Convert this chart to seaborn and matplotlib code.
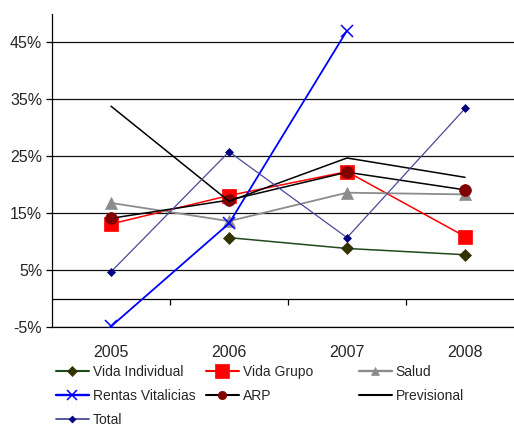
import numpy as np
import pandas as pd
import matplotlib
matplotlib.use("Agg")
import matplotlib.pyplot as plt
import seaborn as sns
from matplotlib.lines import Line2D

# Annual growth rates (%) by insurance line
years = ["2005", "2006", "2007", "2008"]
vida_individual = [np.nan, 10.7, 8.8, 7.7]
vida_grupo = [13.1, 18.1, 22.3, 10.9]
salud = [16.8, 13.6, 18.6, 18.3]
rentas_vitalicias = [-4.9, 13.2, 47.1, np.nan]
arp = [14.1, 17.3, 22.2, 19.1]
previsional = [33.8, 17.1, 24.7, 21.3]
total = [4.7, 25.8, 10.7, 33.4]

series_names = ["Vida Individual", "Vida Grupo", "Salud", "Rentas Vitalicias",
                "ARP", "Previsional", "Total"]
series_values = [vida_individual, vida_grupo, salud, rentas_vitalicias,
                 arp, previsional, total]
y_ticks = [-5, 5, 15, 25, 35, 45]

sns.set_style("white")
plt.rcParams["font.family"] = ["Liberation Sans", "DejaVu Sans"]

styles = {
    "Vida Individual": dict(color="#1e4a1e", marker="D", ms=6.5, lms=5.5, mfc="#333300", mec="#333300", lw=1.1),
    "Vida Grupo": dict(color="#ff0000", marker="s", ms=9.5, lms=9.5, mfc="#ff0000", mec="#ff0000", lw=1.1),
    "Salud": dict(color="#8c8c8c", marker="^", ms=8, lms=6, mfc="#8c8c8c", mec="#8c8c8c", lw=1.3),
    "Rentas Vitalicias": dict(color="#0000ff", marker="x", ms=8, lms=7, mfc="#0000ff", mec="#0000ff", lw=1.3, mew=1.1),
    "ARP": dict(color="#000000", marker="o", ms=8.5, lms=6, mfc="#800000", mec="#800000", lw=1.1),
    "Previsional": dict(color="#000000", marker=None, ms=0, lms=0, mfc="none", mec="none", lw=1.1),
    "Total": dict(color="#4a4a9c", marker="D", ms=4, lms=3.5, mfc="#000080", mec="#000080", lw=0.9),
}

df = pd.DataFrame({"year": np.tile(years, len(series_names)),
                   "serie": np.repeat(series_names, len(years)),
                   "valor": np.concatenate(series_values)})
df["pos"] = df["year"].map({y: i for i, y in enumerate(years)})

fig = plt.figure(figsize=(5.14, 4.26), dpi=100)
ax = fig.add_axes([0.1012, 0.2324, 0.9183, 0.7347])

for name in series_names:
    st = styles[name]
    sub = df[df["serie"] == name].dropna()
    sns.lineplot(data=sub, x="pos", y="valor", ax=ax, color=st["color"], lw=st["lw"],
                 marker=st["marker"], markersize=st["ms"], markerfacecolor=st["mfc"],
                 markeredgecolor=st["mec"], markeredgewidth=st.get("mew", 0.5),
                 legend=False, zorder=3)

ax.set_xlim(-0.5, 3.5)
ax.set_ylim(-5, 50)
ax.set_yticks(y_ticks)
ax.set_yticklabels([f"{v}%" for v in y_ticks])
ax.set_xticks(range(len(years)))
ax.set_xticklabels(years)
ax.set_xlabel("")
ax.set_ylabel("")
ax.yaxis.grid(True, color="#111111", lw=0.9, zorder=0)
ax.xaxis.grid(False)
ax.tick_params(axis="y", length=4, width=0.9, color="black", pad=3, labelsize=11.5, left=True)
ax.tick_params(axis="x", length=0, pad=13, labelsize=11.5)
for s in ["top", "right"]:
    ax.spines[s].set_visible(False)
for s in ["left", "bottom"]:
    ax.spines[s].set_color("black")
    ax.spines[s].set_linewidth(0.9)

# category axis crossing at zero, with boundary ticks
ax.axhline(0, color="black", lw=0.9, zorder=1)
ax.vlines([0.5, 1.5, 2.5], -1.1, 0, color="black", lw=0.9, zorder=1)

def handle(name):
    st = styles[name]
    return Line2D([], [], color=st["color"], lw=st["lw"] + 0.4, marker=st["marker"],
                  markersize=st["lms"], markerfacecolor=st["mfc"],
                  markeredgecolor=st["mec"], markeredgewidth=st.get("mew", 0.5))

columns = [["Vida Individual", "Rentas Vitalicias", "Total"],
           ["Vida Grupo", "ARP"],
           ["Salud", "Previsional"]]
col_x = [53, 203, 356]
for names, x in zip(columns, col_x):
    leg = fig.legend([handle(n) for n in names], names, loc="upper left",
                     bbox_to_anchor=(x / 514, 1 - 362 / 426), frameon=False,
                     fontsize=10, handlelength=2.4, handletextpad=0.25,
                     labelspacing=0.72, borderpad=0.2, borderaxespad=0)

fig.savefig("out.png", dpi=100)
